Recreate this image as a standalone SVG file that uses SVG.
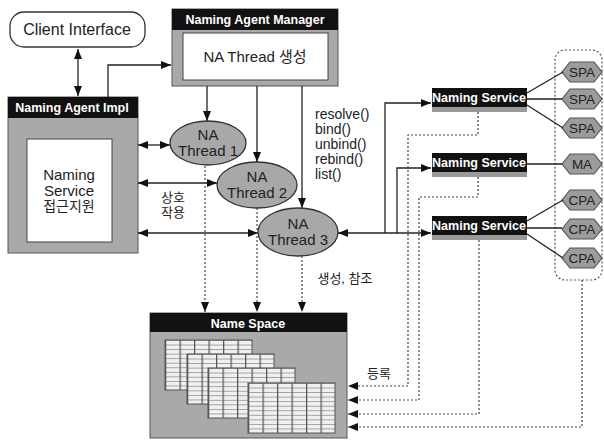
<svg xmlns="http://www.w3.org/2000/svg" width="604" height="441" viewBox="0 0 604 441">
<style>
.t{font-family:"Liberation Sans","Noto Sans CJK KR",Arial,sans-serif;fill:#222}
.hd{font-family:"Liberation Sans","Noto Sans CJK KR",Arial,sans-serif;fill:#fff;font-weight:bold;font-size:12.5px}
.hdr{fill:#111}
.body{fill:#a9a9a9;stroke:#555;stroke-width:1}
.ln{stroke:#222;stroke-width:1.3;fill:none}
.dot{stroke:#444;stroke-width:1.2;fill:none;stroke-dasharray:2 2}
.ell{fill:#a8a8a8;stroke:#333;stroke-width:1.3}
.hex{fill:#9c9c9c;stroke:#555;stroke-width:1.2}
.ht{font-family:"Liberation Sans",Arial,sans-serif;font-size:13.5px;fill:#222;text-anchor:middle}
</style>
<defs>
<marker id="a" viewBox="0 0 10 8" refX="10" refY="4" markerWidth="10" markerHeight="8" markerUnits="userSpaceOnUse" orient="auto-start-reverse">
<path d="M0,0 L10,4 L0,8 z" fill="#111"/>
</marker>
<pattern id="cell" patternUnits="userSpaceOnUse" width="14.5" height="4.55">
<rect width="14.5" height="4.55" fill="#f0f0f0"/>
<path d="M0,0.3 H14.5" stroke="#888" stroke-width="0.9"/>
<path d="M0.6,0 V4.55" stroke="#555" stroke-width="1.3"/>
</pattern>
<g id="tbl">
<rect x="0" y="0" width="87" height="50" fill="url(#cell)" stroke="#555" stroke-width="1"/>
</g>
</defs>

<g id="client-interface">
<rect x="10" y="12" width="135" height="35" rx="14" fill="#fff" stroke="#333" stroke-width="1.3"/>
<text class="t" x="77" y="35" font-size="16" text-anchor="middle">Client Interface</text>
</g>

<g id="naming-agent-manager">
<rect class="body" x="172" y="9" width="166" height="77"/>
<rect class="hdr" x="172" y="9" width="166" height="21"/>
<text class="hd" x="255" y="24" text-anchor="middle">Naming Agent Manager</text>
<rect x="183" y="33" width="145" height="47" fill="#fff" stroke="#444" stroke-width="1"/>
<text class="t" x="255" y="62" font-size="15" text-anchor="middle">NA Thread 생성</text>
</g>

<g id="naming-agent-impl">
<rect class="body" x="8" y="97" width="130" height="156"/>
<rect class="hdr" x="8" y="97" width="130" height="21"/>
<text class="hd" x="72" y="112" text-anchor="middle">Naming Agent Impl</text>
<rect x="27" y="139" width="85" height="103" fill="#fff" stroke="#444" stroke-width="1"/>
<text class="t" x="69" y="180" font-size="15" text-anchor="middle">Naming</text>
<text class="t" x="69" y="196" font-size="15" text-anchor="middle">Service</text>
<text class="t" x="69" y="211" font-size="14" text-anchor="middle">접근지원</text>
</g>

<g id="na-thread-1">
<ellipse class="ell" cx="208" cy="143" rx="38" ry="22"/>
<text class="t" x="208" y="140" font-size="15" text-anchor="middle">NA</text>
<text class="t" x="208" y="156" font-size="15" text-anchor="middle">Thread 1</text>
</g>
<g id="na-thread-2">
<ellipse class="ell" cx="257" cy="185" rx="40" ry="23"/>
<text class="t" x="257" y="182" font-size="15" text-anchor="middle">NA</text>
<text class="t" x="257" y="198" font-size="15" text-anchor="middle">Thread 2</text>
</g>
<g id="na-thread-3">
<ellipse class="ell" cx="298" cy="232" rx="40" ry="24"/>
<text class="t" x="298" y="229" font-size="15" text-anchor="middle">NA</text>
<text class="t" x="298" y="245" font-size="15" text-anchor="middle">Thread 3</text>
</g>

<g id="name-space">
<rect class="body" x="150" y="313" width="197" height="125" fill="#b8b8b8"/>
<rect class="hdr" x="150" y="313" width="197" height="19"/>
<text class="hd" x="248" y="328" text-anchor="middle" font-size="14.5">Name Space</text>
<use href="#tbl" x="165" y="340"/>
<use href="#tbl" x="187" y="354"/>
<use href="#tbl" x="208" y="368"/>
<use href="#tbl" x="248" y="383"/>
</g>

<g id="naming-service-1">
<rect x="432" y="107" width="95" height="5" fill="#999"/>
<rect class="hdr" x="432" y="88" width="95" height="19"/>
<text class="hd" x="479" y="102" text-anchor="middle" font-size="11">Naming Service</text>
</g>
<g id="naming-service-2">
<rect x="432" y="172" width="95" height="5" fill="#999"/>
<rect class="hdr" x="432" y="153" width="95" height="19"/>
<text class="hd" x="479" y="167" text-anchor="middle" font-size="11">Naming Service</text>
</g>
<g id="naming-service-3">
<rect x="432" y="235" width="95" height="5" fill="#999"/>
<rect class="hdr" x="432" y="216" width="95" height="19"/>
<text class="hd" x="479" y="230" text-anchor="middle" font-size="11">Naming Service</text>
</g>

<g id="agent-group">
<rect x="555" y="50" width="47" height="230" rx="10" fill="none" stroke="#555" stroke-width="1.2" stroke-dasharray="2 2"/>
</g>
<g id="spa-1"><polygon class="hex" points="562,72 570,62 594,62 602,72 594,82 570,82"/><text class="ht" x="582" y="77">SPA</text></g>
<g id="spa-2"><polygon class="hex" points="562,99 570,89 594,89 602,99 594,109 570,109"/><text class="ht" x="582" y="104">SPA</text></g>
<g id="spa-3"><polygon class="hex" points="562,128 570,118 594,118 602,128 594,138 570,138"/><text class="ht" x="582" y="133">SPA</text></g>
<g id="ma"><polygon class="hex" points="562,164 570,154 594,154 602,164 594,174 570,174"/><text class="ht" x="582" y="169">MA</text></g>
<g id="cpa-1"><polygon class="hex" points="562,200 570,190 594,190 602,200 594,210 570,210"/><text class="ht" x="582" y="205">CPA</text></g>
<g id="cpa-2"><polygon class="hex" points="562,229 570,219 594,219 602,229 594,239 570,239"/><text class="ht" x="582" y="234">CPA</text></g>
<g id="cpa-3"><polygon class="hex" points="562,258 570,248 594,248 602,258 594,268 570,268"/><text class="ht" x="582" y="263">CPA</text></g>

<g id="labels">
<text class="t" x="173" y="202" font-size="13" text-anchor="middle">상호</text>
<text class="t" x="173" y="217" font-size="13" text-anchor="middle">작용</text>
<text class="t" x="345" y="283" font-size="13" text-anchor="middle">생성, 참조</text>
<text class="t" x="379" y="378" font-size="13" text-anchor="middle">등록</text>
<text class="t" x="315" y="119" font-size="14">resolve()</text>
<text class="t" x="315" y="134" font-size="14">bind()</text>
<text class="t" x="315" y="149" font-size="14">unbind()</text>
<text class="t" x="315" y="164" font-size="14">rebind()</text>
<text class="t" x="315" y="179" font-size="14">list()</text>
</g>

<g id="connectors">
<path class="ln" d="M78,49 V96" marker-start="url(#a)" marker-end="url(#a)"/>
<path class="ln" d="M108,97 V65 H171" marker-end="url(#a)"/>
<path class="ln" d="M207,86 V121" marker-end="url(#a)"/>
<path class="ln" d="M257,86 V162" marker-end="url(#a)"/>
<path class="ln" d="M302,86 V208" marker-end="url(#a)"/>
<path class="ln" d="M138,145 H170" marker-start="url(#a)" marker-end="url(#a)"/>
<path class="ln" d="M138,183 H217" marker-start="url(#a)" marker-end="url(#a)"/>
<path class="ln" d="M138,233 H258" marker-start="url(#a)" marker-end="url(#a)"/>
<path class="ln" d="M338,233 H431" marker-start="url(#a)" marker-end="url(#a)"/>
<path class="ln" d="M385,233 V103 H431" marker-end="url(#a)"/>
<path class="ln" d="M397,233 V168 H431" marker-end="url(#a)"/>
<path class="dot" d="M205,166 V312" marker-end="url(#a)"/>
<path class="dot" d="M257,208 V312" marker-end="url(#a)"/>
<path class="dot" d="M302,256 V312" marker-end="url(#a)"/>
<path class="ln" d="M527,93 L563,72 M527,99 H562 M527,105 L563,128" stroke="#444"/>
<path class="ln" d="M527,164 H562" stroke="#444"/>
<path class="ln" d="M527,221 L563,200 M527,228 H562 M527,234 L563,258" stroke="#444"/>
<path class="dot" d="M478,112 V135 H408 V386 H348" marker-end="url(#a)"/>
<path class="dot" d="M478,177 V197 H419 V400 H348" marker-end="url(#a)"/>
<path class="dot" d="M479,240 V414 H348" marker-end="url(#a)"/>
<path class="dot" d="M582,280 V427 H348" marker-end="url(#a)"/>
</g>
</svg>
